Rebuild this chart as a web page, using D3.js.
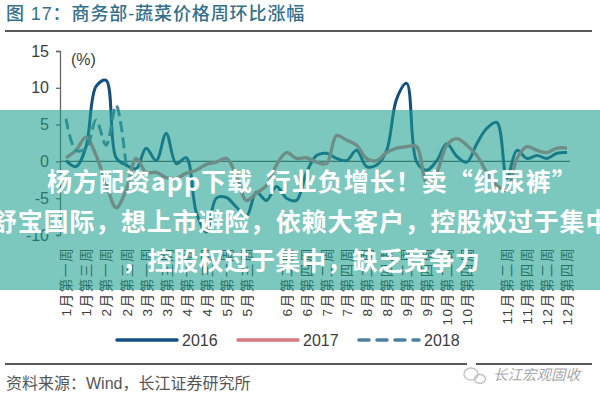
<!DOCTYPE html>
<html>
<head>
<meta charset="utf-8">
<script src="https://cdn.jsdelivr.net/npm/d3@7"></script>
<style>
  html, body { margin: 0; padding: 0; background: #fff; overflow: hidden; }
  svg { display: block; }
  text { font-family: "Liberation Sans", "Noto Sans CJK SC", sans-serif; }
  text.banner { font-family: "Noto Sans CJK SC", sans-serif; }
</style>
</head>
<body>
<div id="chart"></div>
<script>
/**
 * DATA (one value per week)
 **/
const values2016 = [0.1, -0.7, 2.0, 10.2, 11.0, 0.5, -0.5, -1.0, 1.8, 0.1, 3.8, -0.3, 0.5, -6.9, -9.6, -5.0, -4.9,
  -6.2, -7.5, -4.2, -5.3, -3.4, -5.0, -5.3, -1.5, 0.8, 1.1, 0.4, 0.1, 1.5, -0.7, -0.5, 1.5, 8.5, 10.6, -0.1, -1.2,
  0.1, 2.4, 0.7, -0.1, 2.4, 4.5, 5.3, -2.3, 1.5, 0.4, 0.8, 0.4, 1.1, 1.2];
const values2017 = [0.5, 1.5, 3.3, 0.8, -3.0, -6.3, -3.9, 0.4, -1.5, -1.5, -2.2, -2.3, -1.6, -1.2, -0.4, -0.1, 0.4,
  -1.9, -5.3, -4.3, -3.3, -0.5, 1.2, 0.4, 0.5, -0.1, -0.3, 3.5, 2.9, 2.2, 0.4, 0.1, 1.2, 1.8, 2.0, 2.0, -2.9,
  -1.5, 2.2, 3.1, 2.2, 0.8, -1.5, -3.3, -3.9, 0.4, 2.0, 1.5, 1.2, 1.8, 1.8];
const values2018 = [5.8, 1.5, 1.8, 5.6, 2.2, 7.6, -0.5];

// one label every second week, two slots are blank in the original
const tickLabels = ["1月第一周", "1月第三周", "2月第一周", "2月第三周", "3月第一周", "3月第三周", "4月第一周",
  "4月第三周", "5月第一周", "5月第三周", "", "6月第二周", "6月第四周", "7月第二周", "7月第四周", "8月第二周",
  "8月第四周", "9月第二周", "9月第四周", "10月第二周", "10月第四周", "", "11月第二周", "11月第四周",
  "12月第二周", "12月第四周"];
const yTicks = [-10, -5, 0, 5, 10, 15];

const titleText = "图 17：商务部-蔬菜价格周环比涨幅";
const sourceText = "资料来源：Wind，长江证券研究所";
const logoText = "长江宏观固收";
const bannerLines = ["杨方配资app下载 行业负增长！卖“纸尿裤”",
  "舒宝国际，想上市避险，依赖大客户，控股权过于集中",
  "，控股权过于集中，缺乏竞争力"];

/**
 * CONSTANTS
 **/
const width = 600, height = 400;
const color2016 = "#14507f", color2017 = "#d9787f", color2018 = "#4d7f9e";
const textColor = "#3c3c3c";

const svg = d3.select("#chart").append("svg")
  .attr("width", width)
  .attr("height", height);

// SCALES
const xScale = d3.scaleLinear().domain([0, 50]).range([66, 567]);
const yScale = d3.scaleLinear().domain([-10, 15]).range([235, 51]);

// HEADER
svg.append("text")
  .attr("x", 6).attr("y", 20)
  .attr("fill", "#33708c")
  .attr("font-size", 18)
  .attr("font-weight", 500)
  .attr("letter-spacing", 0.9)
  .text(titleText);

svg.append("line")
  .attr("x1", 5).attr("x2", 592).attr("y1", 31).attr("y2", 31)
  .attr("stroke", "#222").attr("stroke-width", 1.6);

// AXES
const yAxis = d3.axisLeft(yScale).tickValues(yTicks).tickSize(4).tickPadding(7).tickFormat(d => String(d));
const yG = svg.append("g")
  .attr("transform", "translate(60,0)")
  .call(yAxis);
yG.selectAll("path, line").attr("stroke", "#666").attr("stroke-width", 1.3);
yG.selectAll("text").attr("font-size", 16).attr("fill", textColor);

svg.append("text")
  .attr("x", 71).attr("y", 65)
  .attr("font-size", 16).attr("fill", textColor)
  .text("(%)");

// zero line
const zeroAxis = d3.axisBottom(xScale).tickValues([]).tickSize(0);
const zeroG = svg.append("g")
  .attr("transform", `translate(0,${yScale(0)})`)
  .call(zeroAxis);
zeroG.select("path")
  .attr("d", `M60,0H${xScale(50) + 3}`)
  .attr("stroke", "#555").attr("stroke-width", 1.3);

// week labels, rotated, hanging below the plot
const labelAxis = d3.axisBottom(xScale)
  .tickValues(tickLabels.map((d, i) => i * 2))
  .tickSize(0)
  .tickFormat(d => tickLabels[d / 2]);
const labelG = svg.append("g")
  .attr("transform", "translate(0,247)")
  .call(labelAxis);
labelG.select("path").remove();
labelG.selectAll("text")
  .attr("transform", "rotate(-90)")
  .attr("x", 0)
  .attr("y", 0)
  .attr("dy", "0.36em")
  .attr("text-anchor", "end")
  .attr("font-size", 13.6)
  .attr("letter-spacing", 1.5)
  .attr("fill", textColor);

// LINES
const lineFunc = d3.line()
  .x((d, i) => xScale(i))
  .y(d => yScale(d))
  .curve(d3.curveCatmullRom.alpha(0.5));

svg.append("path").attr("class", "trend")
  .datum(values2016)
  .attr("d", lineFunc)
  .attr("fill", "none").attr("stroke", color2016).attr("stroke-width", 3);
svg.append("path").attr("class", "trend")
  .datum(values2017)
  .attr("d", lineFunc)
  .attr("fill", "none").attr("stroke", color2017).attr("stroke-width", 3.4);
svg.append("path").attr("class", "trend")
  .datum(values2018)
  .attr("d", lineFunc)
  .attr("fill", "none").attr("stroke", color2018).attr("stroke-width", 3)
  .attr("stroke-dasharray", "11 5");

// LEGEND
const legendItems = [
  { label: "2016", x: 117, color: color2016, dash: null },
  { label: "2017", x: 238, color: color2017, dash: null },
  { label: "2018", x: 359, color: color2018, dash: "10 8" }
];
const legend = svg.selectAll("g.legend")
  .data(legendItems)
  .join("g")
  .attr("class", "legend")
  .attr("transform", d => `translate(${d.x},340)`);
legend.append("line")
  .attr("x2", 60)
  .attr("stroke", d => d.color)
  .attr("stroke-width", 3.5)
  .attr("stroke-linecap", "round")
  .attr("stroke-dasharray", d => d.dash);
legend.append("text")
  .attr("x", 65).attr("dy", "0.36em")
  .attr("font-size", 16).attr("fill", textColor)
  .text(d => d.label);

// FOOTER
svg.append("path")
  .attr("d", "M5,364H467M476,364H592")
  .attr("stroke", "#222").attr("stroke-width", 1.6).attr("fill", "none");

svg.append("text")
  .attr("x", 6).attr("y", 389)
  .attr("font-size", 16).attr("fill", "#555")
  .text(sourceText);

// wechat style logo
svg.append("ellipse").attr("cx", 471).attr("cy", 374).attr("rx", 7).attr("ry", 6)
  .attr("fill", "none").attr("stroke", "#c4c4c4").attr("stroke-width", 1.5);
svg.append("ellipse").attr("cx", 480).attr("cy", 379).attr("rx", 5.5).attr("ry", 4.5)
  .attr("fill", "none").attr("stroke", "#c4c4c4").attr("stroke-width", 1.5);

svg.append("text")
  .attr("x", 493).attr("y", 380)
  .attr("font-size", 14.5).attr("font-style", "italic").attr("fill", "#a8a8a8")
  .text(logoText);

// BANNER over the chart
svg.append("rect")
  .attr("x", 0).attr("y", 110).attr("width", width).attr("height", 180)
  .attr("fill", "#1a9e8c").attr("opacity", 0.57);

svg.selectAll("text.banner")
  .data(bannerLines)
  .join("text")
  .attr("class", "banner")
  .attr("x", (d, i) => [47, -8, 122][i])
  .attr("y", (d, i) => [191, 231, 270][i])
  .attr("font-size", 25)
  .attr("font-weight", 700)
  .attr("letter-spacing", (d, i) => [1, 0.8, 0.6][i])
  .attr("word-spacing", (d, i) => [6, 0, 0][i])
  .attr("fill", "#fff")
  .text(d => d);
</script>
</body>
</html>
